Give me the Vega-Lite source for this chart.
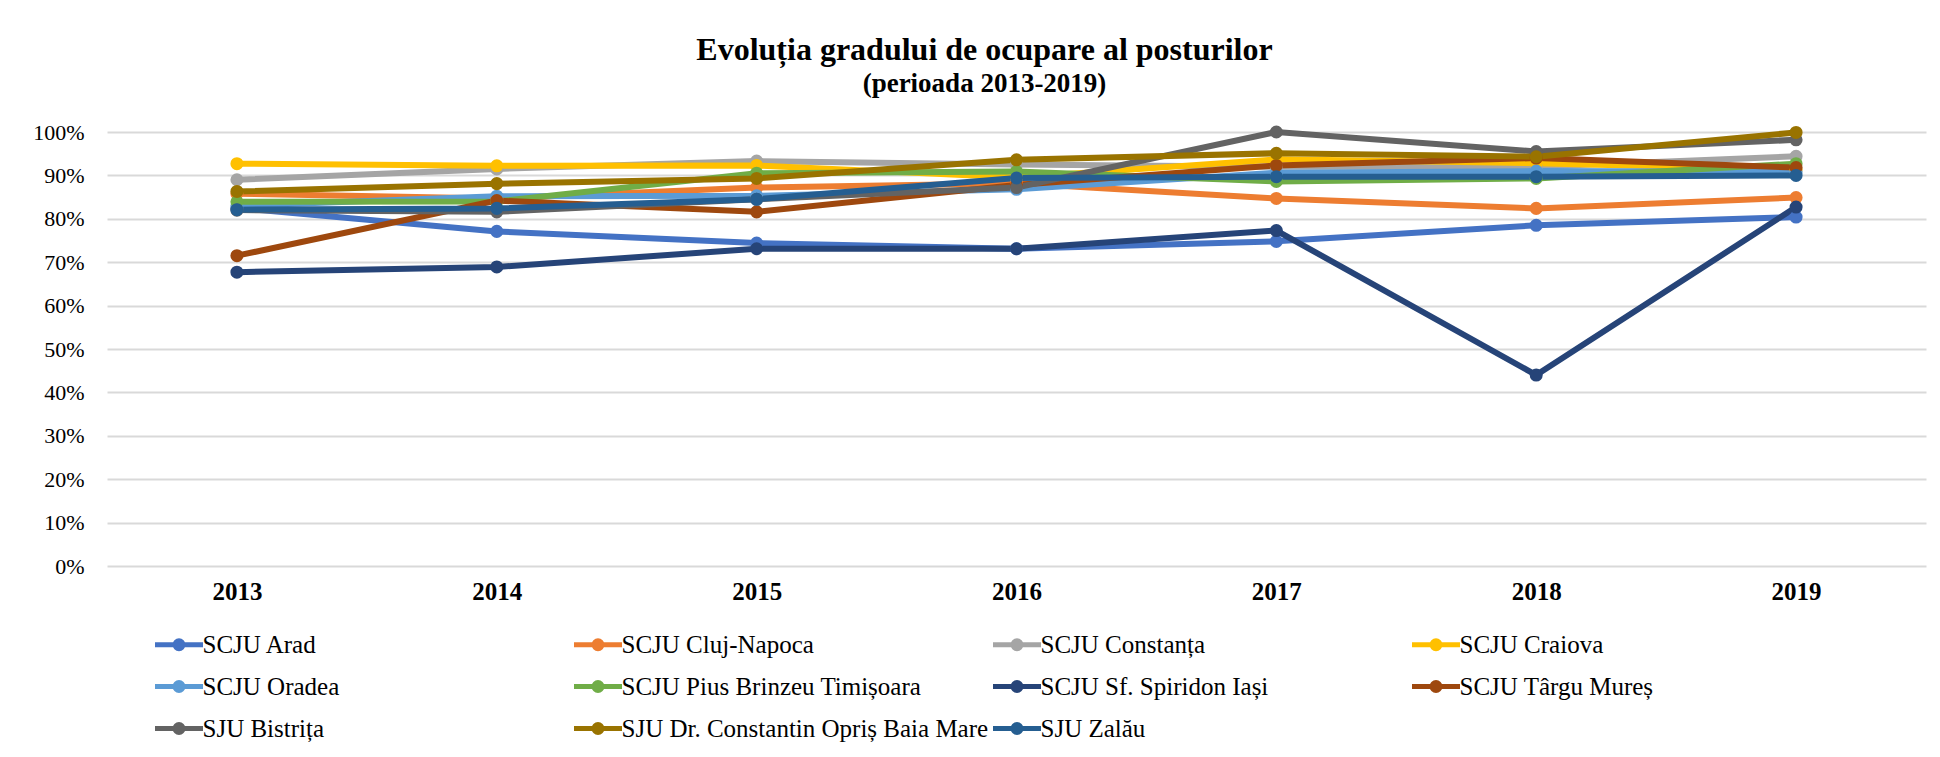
{
  "$schema": "https://vega.github.io/schema/vega-lite/v6.json",
  "width": 1819,
  "height": 434,
  "autosize": {"type": "none"},
  "padding": {"left": 107, "top": 132, "right": 14, "bottom": 191},
  "background": "white",
  "title": {
    "text": "Evoluția gradului de ocupare al posturilor",
    "subtitle": "(perioada 2013-2019)",
    "anchor": "middle",
    "dx": -32,
    "offset": 22,
    "font": "Liberation Serif",
    "fontSize": 32,
    "fontWeight": "bold",
    "color": "black",
    "subtitleFont": "Liberation Serif",
    "subtitleFontSize": 27,
    "subtitleFontWeight": "bold",
    "subtitleColor": "black",
    "subtitlePadding": 4
  },
  "data": {
    "values": [
      {"s": "SCJU Arad", "y": "2013", "v": 0.825}, {"s": "SCJU Arad", "y": "2014", "v": 0.771}, {"s": "SCJU Arad", "y": "2015", "v": 0.744}, {"s": "SCJU Arad", "y": "2016", "v": 0.731}, {"s": "SCJU Arad", "y": "2017", "v": 0.748}, {"s": "SCJU Arad", "y": "2018", "v": 0.785}, {"s": "SCJU Arad", "y": "2019", "v": 0.804},
      {"s": "SCJU Cluj-Napoca", "y": "2013", "v": 0.858}, {"s": "SCJU Cluj-Napoca", "y": "2014", "v": 0.847}, {"s": "SCJU Cluj-Napoca", "y": "2015", "v": 0.872}, {"s": "SCJU Cluj-Napoca", "y": "2016", "v": 0.882}, {"s": "SCJU Cluj-Napoca", "y": "2017", "v": 0.847}, {"s": "SCJU Cluj-Napoca", "y": "2018", "v": 0.824}, {"s": "SCJU Cluj-Napoca", "y": "2019", "v": 0.849},
      {"s": "SCJU Constanța", "y": "2013", "v": 0.890}, {"s": "SCJU Constanța", "y": "2014", "v": 0.915}, {"s": "SCJU Constanța", "y": "2015", "v": 0.933}, {"s": "SCJU Constanța", "y": "2016", "v": 0.925}, {"s": "SCJU Constanța", "y": "2017", "v": 0.920}, {"s": "SCJU Constanța", "y": "2018", "v": 0.920}, {"s": "SCJU Constanța", "y": "2019", "v": 0.944},
      {"s": "SCJU Craiova", "y": "2013", "v": 0.927}, {"s": "SCJU Craiova", "y": "2014", "v": 0.922}, {"s": "SCJU Craiova", "y": "2015", "v": 0.923}, {"s": "SCJU Craiova", "y": "2016", "v": 0.895}, {"s": "SCJU Craiova", "y": "2017", "v": 0.937}, {"s": "SCJU Craiova", "y": "2018", "v": 0.928}, {"s": "SCJU Craiova", "y": "2019", "v": 0.913},
      {"s": "SCJU Oradea", "y": "2013", "v": 0.830}, {"s": "SCJU Oradea", "y": "2014", "v": 0.852}, {"s": "SCJU Oradea", "y": "2015", "v": 0.853}, {"s": "SCJU Oradea", "y": "2016", "v": 0.868}, {"s": "SCJU Oradea", "y": "2017", "v": 0.906}, {"s": "SCJU Oradea", "y": "2018", "v": 0.910}, {"s": "SCJU Oradea", "y": "2019", "v": 0.908},
      {"s": "SCJU Pius Brinzeu Timișoara", "y": "2013", "v": 0.839}, {"s": "SCJU Pius Brinzeu Timișoara", "y": "2014", "v": 0.840}, {"s": "SCJU Pius Brinzeu Timișoara", "y": "2015", "v": 0.905}, {"s": "SCJU Pius Brinzeu Timișoara", "y": "2016", "v": 0.909}, {"s": "SCJU Pius Brinzeu Timișoara", "y": "2017", "v": 0.886}, {"s": "SCJU Pius Brinzeu Timișoara", "y": "2018", "v": 0.893}, {"s": "SCJU Pius Brinzeu Timișoara", "y": "2019", "v": 0.927},
      {"s": "SCJU Sf. Spiridon Iași", "y": "2013", "v": 0.677}, {"s": "SCJU Sf. Spiridon Iași", "y": "2014", "v": 0.689}, {"s": "SCJU Sf. Spiridon Iași", "y": "2015", "v": 0.731}, {"s": "SCJU Sf. Spiridon Iași", "y": "2016", "v": 0.731}, {"s": "SCJU Sf. Spiridon Iași", "y": "2017", "v": 0.773}, {"s": "SCJU Sf. Spiridon Iași", "y": "2018", "v": 0.440}, {"s": "SCJU Sf. Spiridon Iași", "y": "2019", "v": 0.827},
      {"s": "SCJU Târgu Mureș", "y": "2013", "v": 0.715}, {"s": "SCJU Târgu Mureș", "y": "2014", "v": 0.842}, {"s": "SCJU Târgu Mureș", "y": "2015", "v": 0.816}, {"s": "SCJU Târgu Mureș", "y": "2016", "v": 0.878}, {"s": "SCJU Târgu Mureș", "y": "2017", "v": 0.923}, {"s": "SCJU Târgu Mureș", "y": "2018", "v": 0.940}, {"s": "SCJU Târgu Mureș", "y": "2019", "v": 0.918},
      {"s": "SJU Bistrița", "y": "2013", "v": 0.820}, {"s": "SJU Bistrița", "y": "2014", "v": 0.816}, {"s": "SJU Bistrița", "y": "2015", "v": 0.845}, {"s": "SJU Bistrița", "y": "2016", "v": 0.872}, {"s": "SJU Bistrița", "y": "2017", "v": 1.000}, {"s": "SJU Bistrița", "y": "2018", "v": 0.955}, {"s": "SJU Bistrița", "y": "2019", "v": 0.982},
      {"s": "SJU Dr. Constantin Opriș Baia Mare", "y": "2013", "v": 0.863}, {"s": "SJU Dr. Constantin Opriș Baia Mare", "y": "2014", "v": 0.881}, {"s": "SJU Dr. Constantin Opriș Baia Mare", "y": "2015", "v": 0.893}, {"s": "SJU Dr. Constantin Opriș Baia Mare", "y": "2016", "v": 0.936}, {"s": "SJU Dr. Constantin Opriș Baia Mare", "y": "2017", "v": 0.951}, {"s": "SJU Dr. Constantin Opriș Baia Mare", "y": "2018", "v": 0.943}, {"s": "SJU Dr. Constantin Opriș Baia Mare", "y": "2019", "v": 0.999},
      {"s": "SJU Zalău", "y": "2013", "v": 0.821}, {"s": "SJU Zalău", "y": "2014", "v": 0.824}, {"s": "SJU Zalău", "y": "2015", "v": 0.845}, {"s": "SJU Zalău", "y": "2016", "v": 0.894}, {"s": "SJU Zalău", "y": "2017", "v": 0.897}, {"s": "SJU Zalău", "y": "2018", "v": 0.897}, {"s": "SJU Zalău", "y": "2019", "v": 0.900}
    ]
  },
  "encoding": {
    "x": {
      "field": "y", "type": "ordinal",
      "scale": {"type": "point", "padding": 0.5},
      "axis": {"title": null, "domain": false, "ticks": false, "grid": false, "labelAngle": 0, "labelFont": "Liberation Serif", "labelFontWeight": "bold", "labelFontSize": 25, "labelColor": "black", "labelPadding": 13}
    },
    "y": {
      "field": "v", "type": "quantitative",
      "scale": {"domain": [0, 1], "nice": false, "zero": true},
      "axis": {"title": null, "values": [0, 0.1, 0.2, 0.3, 0.4, 0.5, 0.6, 0.7, 0.8, 0.9, 1], "format": ".0%", "domain": false, "ticks": false, "labelFont": "Liberation Serif", "labelFontSize": 22, "labelColor": "black", "labelPadding": 23, "gridColor": "#d9d9d9", "gridWidth": 2}
    },
    "color": {
      "field": "s", "type": "nominal",
      "scale": {
        "domain": ["SCJU Arad", "SCJU Cluj-Napoca", "SCJU Constanța", "SCJU Craiova", "SCJU Oradea", "SCJU Pius Brinzeu Timișoara", "SCJU Sf. Spiridon Iași", "SCJU Târgu Mureș", "SJU Bistrița", "SJU Dr. Constantin Opriș Baia Mare", "SJU Zalău"],
        "range": ["#4472C4", "#ED7D31", "#A5A5A5", "#FFC000", "#5B9BD5", "#70AD47", "#264478", "#9E480E", "#636363", "#997300", "#255E91"]
      },
      "legend": {
        "title": null,
        "orient": "none",
        "direction": "horizontal",
        "legendX": 46,
        "legendY": 500,
        "columns": 4,
        "gridAlign": "all",
        "columnPadding": -6,
        "rowPadding": 13,
        "padding": 0,
        "symbolType": "M-3,0H3M-0.5,0A0.5,0.5,0,1,0,0.5,0A0.5,0.5,0,1,0,-0.5,0Z",
        "symbolSize": 256,
        "symbolStrokeWidth": 5,
        "symbolOffset": 13.5,
        "labelOffset": 11,
        "labelFont": "Liberation Serif",
        "labelFontSize": 25,
        "labelColor": "black",
        "labelLimit": 0,
        "encode": {
          "symbols": {
            "update": {
              "fill": {"scale": "color", "field": "value"},
              "stroke": {"scale": "color", "field": "value"},
              "strokeWidth": {"value": 5},
              "opacity": {"value": 1}
            }
          },
          "labels": {
            "update": {
              "font": {"value": "Liberation Serif"},
              "fontSize": {"value": 25},
              "fill": {"value": "black"}
            }
          }
        }
      }
    }
  },
  "layer": [
    {"mark": {"type": "line", "strokeWidth": 6}},
    {"mark": {"type": "point", "filled": true, "size": 170, "opacity": 1}}
  ],
  "config": {
    "view": {"stroke": null},
    "legend": {"labelFont": "Liberation Serif", "labelFontSize": 25, "labelColor": "black"}
  }
}
